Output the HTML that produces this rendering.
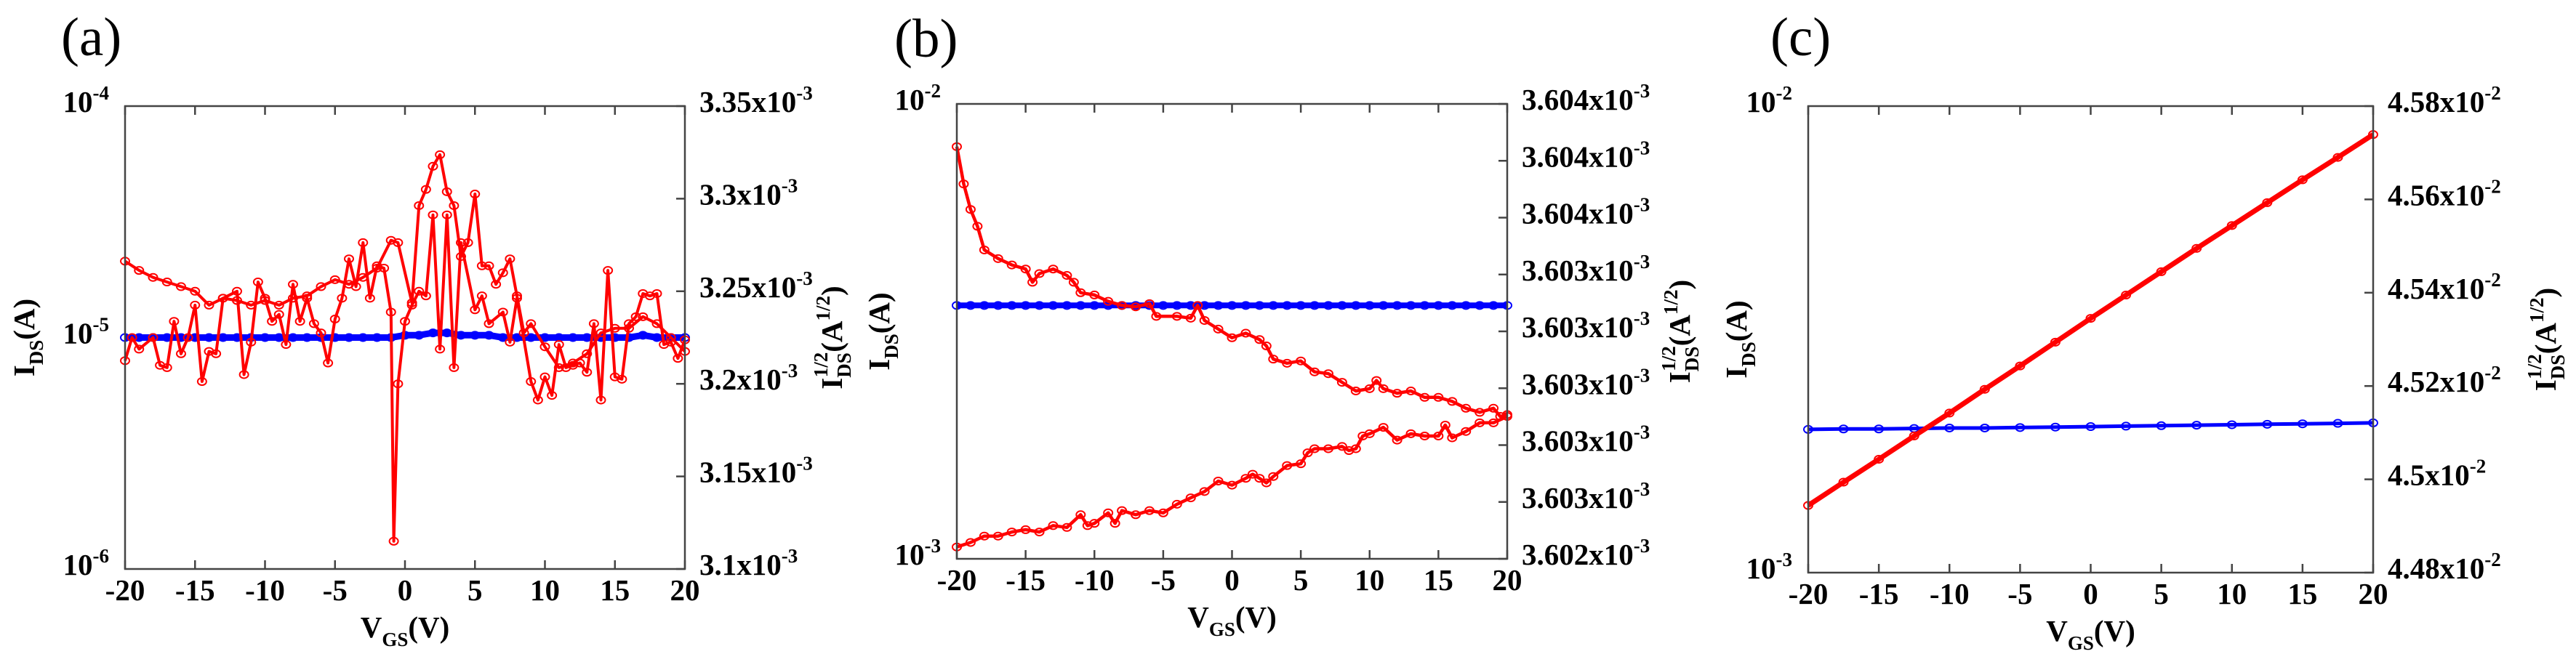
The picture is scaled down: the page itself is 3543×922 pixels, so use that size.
<!DOCTYPE html>
<html><head><meta charset="utf-8"><style>
html,body{margin:0;padding:0;background:#fff;width:3543px;height:922px;overflow:hidden}
svg{display:block}
text{font-family:"Liberation Serif",serif}
</style></head><body>
<svg id="fig" width="3543" height="922" viewBox="0 0 3543 922" xmlns="http://www.w3.org/2000/svg"></svg>
<script>
// ---- shared data ----
const xTicks = [-20,-15,-10,-5,0,5,10,15,20];

// Panel (a): values are log10(I_DS / A)
const aRed1X = [-20,-19.5,-19,-18,-17.5,-17,-16.5,-16,-15.5,-15,-14.5,-14,-13.5,-13,-12,-11.5,-11,-10.5,-10,-9.5,-9,-8.5,-8,-7.5,-7,-6.5,-6,-5.5,-5,-4.5,-4,-3.5,-3,-2.5,-2,-1.5,-1,-0.8,-0.5,0,0.5,1,1.5,2,2.5,3,3.5,4,5,5.5,6,7,7.5,8,9,9.5,10,10.5,11,11.5,12,12.5,13,13.5,14,14.5,15,15.5,16,16.5,17,17.5,18,18.5,19,19.5,20];
const aRed1Y = [-5.10,-5.00,-5.05,-5.00,-5.12,-5.13,-4.93,-5.07,-5.00,-4.86,-5.19,-5.06,-5.07,-4.83,-4.80,-5.16,-5.02,-4.76,-4.83,-4.93,-4.90,-5.03,-4.77,-4.93,-4.83,-4.94,-4.98,-5.11,-4.92,-4.83,-4.66,-4.78,-4.59,-4.83,-4.69,-4.70,-4.89,-5.88,-5.20,-4.93,-4.86,-4.80,-4.82,-4.47,-5.05,-4.47,-5.13,-4.59,-4.88,-4.82,-4.94,-4.89,-5.02,-4.83,-5.19,-5.27,-5.17,-5.25,-5.03,-5.13,-5.12,-5.11,-5.15,-4.94,-5.27,-4.71,-5.17,-5.18,-4.94,-4.91,-4.81,-4.82,-4.81,-5.03,-5.02,-5.09,-5.01];
const aRed2X = [-20,-19,-18,-17,-16,-15,-14,-13,-12,-11,-10,-9,-8,-7,-6,-5,-4,-3,-2,-1,-0.5,0.5,1,1.5,2,2.5,3,3.5,4,4.5,5,5.5,6,6.5,7,7.5,8,8.5,9,10,11,12,13,14,15,16,17,18,19,20];
const aRed2Y = [-4.67,-4.71,-4.74,-4.76,-4.78,-4.80,-4.86,-4.83,-4.84,-4.86,-4.84,-4.86,-4.83,-4.82,-4.78,-4.75,-4.77,-4.74,-4.70,-4.58,-4.59,-4.85,-4.43,-4.36,-4.26,-4.21,-4.37,-4.43,-4.65,-4.59,-4.38,-4.69,-4.69,-4.77,-4.72,-4.66,-4.82,-4.98,-4.94,-5.04,-5.13,-5.11,-5.07,-4.98,-4.96,-4.96,-4.91,-4.94,-5.00,-5.06];
const aBlueX = [-20,-19,-18,-17,-16,-15,-14,-13,-12,-11,-10,-9,-8,-7,-6,-5,-4,-3,-2,-1,0,1,2,3,4,5,6,7,8,9,10,11,12,13,14,15,16,17,18,19,20];
const aBlueY = [-5.00,-5.00,-5.00,-5.00,-5.00,-5.00,-5.00,-5.00,-5.00,-5.00,-5.00,-5.00,-5.00,-5.00,-5.00,-5.00,-5.00,-5.00,-5.00,-5.00,-4.99,-4.99,-4.98,-4.98,-4.99,-4.99,-4.99,-5.00,-5.00,-5.00,-5.00,-5.00,-5.00,-5.00,-5.00,-5.00,-5.00,-4.99,-5.00,-5.00,-5.00];
const aLeftTicks = [-6,-5,-4];
const aRightTicks = ["3.1","3.15","3.2","3.25","3.3","3.35"];

// Panel (b)
const bRed1X = [-20,-19.5,-19,-18.5,-18,-17,-16,-15,-14.5,-14,-13,-12,-11.5,-11,-10,-9,-8,-7,-6,-5.5,-4,-3,-2.5,-2,-1,0,1,2,2.5,3,4,5,6,7,8,9,10,10.5,11,12,13,14,15,16,17,18,19,19.5,20];
const bRed1Y = [-2.094,-2.176,-2.232,-2.269,-2.321,-2.340,-2.354,-2.363,-2.392,-2.373,-2.363,-2.377,-2.392,-2.415,-2.420,-2.434,-2.443,-2.446,-2.439,-2.467,-2.467,-2.471,-2.443,-2.476,-2.495,-2.514,-2.504,-2.518,-2.532,-2.561,-2.570,-2.565,-2.589,-2.593,-2.612,-2.631,-2.626,-2.608,-2.626,-2.636,-2.631,-2.645,-2.645,-2.654,-2.669,-2.678,-2.669,-2.687,-2.683];
const bRed2X = [-20,-19,-18,-17,-16,-15,-14,-13,-12,-11,-10.5,-10,-9,-8.5,-8,-7,-6,-5,-4,-3,-2,-1,0,1,1.5,2,2.5,3,4,5,5.5,6,7,8,8.5,9,9.5,10,11,12,13,14,15,15.5,16,17,18,19,20];
const bRed2Y = [-2.974,-2.964,-2.950,-2.950,-2.941,-2.936,-2.941,-2.927,-2.931,-2.903,-2.927,-2.922,-2.899,-2.922,-2.894,-2.903,-2.894,-2.899,-2.880,-2.866,-2.852,-2.829,-2.838,-2.823,-2.814,-2.823,-2.833,-2.819,-2.795,-2.791,-2.767,-2.758,-2.758,-2.753,-2.762,-2.758,-2.730,-2.725,-2.711,-2.739,-2.725,-2.730,-2.730,-2.706,-2.734,-2.720,-2.701,-2.701,-2.687];
const bBlueX = [-20,-19,-18,-17,-16,-15,-14,-13,-12,-11,-10,-9,-8,-7,-6,-5,-4,-3,-2,-1,0,1,2,3,4,5,6,7,8,9,10,11,12,13,14,15,16,17,18,19,20];
const bBlueY = [-2.443,-2.443,-2.443,-2.443,-2.443,-2.443,-2.443,-2.443,-2.443,-2.443,-2.443,-2.443,-2.443,-2.443,-2.443,-2.443,-2.443,-2.443,-2.443,-2.443,-2.443,-2.443,-2.443,-2.443,-2.443,-2.443,-2.443,-2.443,-2.443,-2.443,-2.443,-2.443,-2.443,-2.443,-2.443,-2.443,-2.443,-2.443,-2.443,-2.443,-2.443];
const bLeftTicks = [-3,-2];
const bRightTicks = ["3.602","3.603","3.603","3.603","3.603","3.603","3.604","3.604","3.604"];

// Panel (c)
const cRedX = [-20,-17.5,-15,-12.5,-10,-7.5,-5,-2.5,0,2.5,5,7.5,10,12.5,15,17.5,20];
const cRedY = [-2.856,-2.806,-2.757,-2.707,-2.658,-2.607,-2.557,-2.506,-2.455,-2.405,-2.355,-2.305,-2.256,-2.207,-2.158,-2.110,-2.061];
const cBlueX = [-20,-17.5,-15,-12.5,-10,-7.5,-5,-2.5,0,2.5,5,7.5,10,12.5,15,17.5,20];
const cBlueY = [-2.693,-2.692,-2.692,-2.691,-2.690,-2.690,-2.689,-2.688,-2.687,-2.686,-2.685,-2.684,-2.683,-2.682,-2.681,-2.680,-2.679];
const cLeftTicks = [-3,-2];
const cRightTicks = ["4.48","4.5","4.52","4.54","4.56","4.58"];

const NS = "http://www.w3.org/2000/svg";
const fig = document.getElementById('fig');
function mk(tag, attrs, parent){
  const e = document.createElementNS(NS, tag);
  for (const k in attrs) e.setAttribute(k, attrs[k]);
  (parent||fig).appendChild(e);
  return e;
}
const FS = 41;

function panel(p){
  const g = mk('g', {});
  
  
  const sx = v => p.L + (v + 20) / 40 * (p.R - p.L);
  const sy = v => p.B - (v - p.ymin) / (p.ymax - p.ymin) * (p.B - p.T);

  const lab = mk('text', {x: p.labX, y: p.labY, 'font-size': 75}, g);
  lab.textContent = '(' + p.id + ')';
  
  

  p.series.forEach(s => {
    const sg = mk('g', {}, g);
    
    
    const pts = s.x.map((xv, i) => sx(xv).toFixed(1) + ',' + sy(s.y[i]).toFixed(1)).join(' ');
    const pl = mk('polyline', {points: pts, fill: 'none', stroke: s.color, 'stroke-width': s.w, 'stroke-linejoin': 'round'}, sg);
    
    
    s.x.forEach((xv, i) => {
      const c = mk('ellipse', {cx: sx(xv), cy: sy(s.y[i]), rx: 6, ry: 5, fill: 'none', stroke: s.color, 'stroke-width': 2}, sg);
      
      
    });
  });

  const fr = mk('rect', {x: p.L, y: p.T, width: p.R - p.L, height: p.B - p.T, fill: 'none', stroke: '#444', 'stroke-width': 2.5}, g);
  
  

  xTicks.forEach(t => {
    const x = sx(t);
    mk('line', {x1: x, x2: x, y1: p.B, y2: p.B - 12, stroke: '#444', 'stroke-width': 2.5}, g);
    mk('line', {x1: x, x2: x, y1: p.T, y2: p.T + 12, stroke: '#444', 'stroke-width': 2.5}, g);
    const tx = mk('text', {x: x, y: p.B + 43, 'font-size': FS, 'font-weight': 'bold', 'text-anchor': 'middle'}, g);
    tx.textContent = t;
    
    
  });
  p.left.forEach(t => {
    const y = sy(t);
    const tx = mk('text', {x: p.L - 22, y: y + 8, 'font-size': FS, 'font-weight': 'bold', 'text-anchor': 'end'}, g);
    tx.innerHTML = '10<tspan dy="-17" font-size="27">' + t + '</tspan>';
    
    
  });
  const n = p.right.length;
  p.right.forEach((t, i) => {
    const y = p.B - i / (n - 1) * (p.B - p.T);
    mk('line', {x1: p.R, x2: p.R - 12, y1: y, y2: y, stroke: '#444', 'stroke-width': 2.5}, g);
    const tx = mk('text', {x: p.R + 20, y: y + 8, 'font-size': FS, 'font-weight': 'bold'}, g);
    tx.innerHTML = t + 'x10<tspan dy="-17" font-size="27">' + p.exp + '</tspan>';
    
    
  });
  const cx = (p.L + p.R) / 2, cy = (p.T + p.B) / 2;
  const xt = mk('text', {x: cx, y: p.B + 94, 'font-size': FS, 'font-weight': 'bold', 'text-anchor': 'middle'}, g);
  xt.innerHTML = 'V<tspan dy="12" font-size="27">GS</tspan><tspan dy="-12">(V)</tspan>';
  
  
  const yl = mk('text', {x: 0, y: 0, 'font-size': FS, 'font-weight': 'bold', 'text-anchor': 'middle', transform: 'translate(' + p.ylX + ',' + cy + ') rotate(-90)'}, g);
  yl.innerHTML = 'I<tspan dy="12" font-size="27">DS</tspan><tspan dy="-12">(A)</tspan>';
  
  
  const yr = mk('text', {x: 0, y: 0, 'font-size': FS, 'font-weight': 'bold', 'text-anchor': 'middle', transform: 'translate(' + p.yrX + ',' + cy + ') rotate(-90)'}, g);
  yr.innerHTML = 'I<tspan dy="12" font-size="27">DS</tspan><tspan dx="-34" dy="-32" font-size="27">1/2</tspan><tspan dy="20">(A</tspan><tspan dy="-17" font-size="27">1/2</tspan><tspan dy="17">)</tspan>';
  
  
}

panel({id:'a', L:172, R:942, T:146, B:783, ymin:-6, ymax:-4, left:aLeftTicks, right:aRightTicks, exp:'-3',
  labX:84, labY:76, ylX:47, yrX:1158,
  series:[
    {name:'a-blue-series', x:aBlueX, y:aBlueY, color:'#0000ff', w:9},
    {name:'a-red-forward', x:aRed1X, y:aRed1Y, color:'#ff0000', w:4},
    {name:'a-red-reverse', x:aRed2X, y:aRed2Y, color:'#ff0000', w:4}
  ]});
panel({id:'b', L:1316, R:2073, T:143, B:769, ymin:-3, ymax:-2, left:bLeftTicks, right:bRightTicks, exp:'-3',
  labX:1230, labY:78, ylX:1223, yrX:2324,
  series:[
    {name:'b-blue-series', x:bBlueX, y:bBlueY, color:'#0000ff', w:8},
    {name:'b-red-forward', x:bRed1X, y:bRed1Y, color:'#ff0000', w:4.5},
    {name:'b-red-reverse', x:bRed2X, y:bRed2Y, color:'#ff0000', w:4.5}
  ]});
panel({id:'c', L:2487, R:3264, T:146, B:788, ymin:-3, ymax:-2, left:cLeftTicks, right:cRightTicks, exp:'-2',
  labX:2435, labY:76, ylX:2402, yrX:3515,
  series:[
    {name:'c-blue-series', x:cBlueX, y:cBlueY, color:'#0000ff', w:5},
    {name:'c-red-series', x:cRedX, y:cRedY, color:'#ff0000', w:7}
  ]});
</script>
</body></html>
